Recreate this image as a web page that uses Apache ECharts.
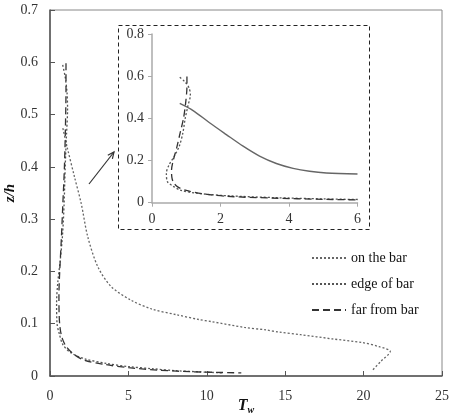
<!DOCTYPE html>
<html>
<head>
<meta charset="utf-8">
<script src="https://cdn.jsdelivr.net/npm/echarts@6/dist/echarts.min.js"></script>
<style>
  html, body { margin: 0; padding: 0; background: #fff; }
  #chart { width: 449px; height: 415px; }
</style>
</head>
<body>
<div id="chart"></div>
<script>
// names shown in the legend
const seriesNames = ['on the bar', 'edge of bar', 'far from bar'];

// main plot, [Tw, z/h]
const onTheBar = [
  [0.82, 0.474], [1.09, 0.438], [1.56, 0.381], [1.99, 0.33], [2.41, 0.266],
  [3.05, 0.209], [3.9, 0.171], [5.17, 0.145], [6.5, 0.128], [8.1, 0.117],
  [9.5, 0.108], [10.3, 0.104], [12.4, 0.093], [13.8, 0.088], [14.6, 0.084],
  [16, 0.079], [18, 0.071], [19.9, 0.064], [21, 0.056], [21.7, 0.047],
  [21.1, 0.028], [20.5, 0.009]
];
const edgeOfBar = [
  [0.81, 0.595], [0.95, 0.575], [1.08, 0.545], [1.12, 0.51], [1.05, 0.46],
  [0.97, 0.4], [0.9, 0.33], [0.8, 0.27], [0.65, 0.22], [0.5, 0.18],
  [0.42, 0.14], [0.45, 0.1], [0.6, 0.08], [0.82, 0.06], [1.3, 0.045],
  [2.2, 0.033], [3.6, 0.024], [5.0, 0.018], [6.5, 0.014], [8.1, 0.01],
  [9.5, 0.008], [11.0, 0.006]
];
const farFromBar = [
  [1.02, 0.598], [1.02, 0.55], [0.98, 0.47], [0.92, 0.4], [0.82, 0.33],
  [0.72, 0.26], [0.62, 0.2], [0.57, 0.155], [0.58, 0.12], [0.63, 0.095],
  [0.75, 0.075], [1.0, 0.058], [1.5, 0.042], [2.2, 0.03], [3.5, 0.022],
  [5.0, 0.016], [7.0, 0.011], [9.2, 0.008], [12.2, 0.006]
];

// zoomed inset
const onTheBarInset = [
  [0.81, 0.471], [1.2, 0.437], [1.68, 0.379], [2.17, 0.323], [2.66, 0.268],
  [3.14, 0.221], [3.63, 0.186], [4.12, 0.163], [4.6, 0.149], [5.09, 0.141],
  [6.0, 0.136]
];

const serif = 'Liberation Serif';

const chart = echarts.init(document.getElementById('chart'));

const option = {
  backgroundColor: '#fff',
  animation: false,
  legend: {
    data: seriesNames,
    orient: 'vertical',
    left: 306,
    top: 246,
    itemWidth: 34,
    itemHeight: 14,
    itemGap: 12,
    itemStyle: { opacity: 0 },
    textStyle: { fontFamily: serif, fontSize: 14, color: '#111' }
  },
  grid: [
    // main
    { left: 50, top: 10, width: 392, height: 366, outerBoundsMode: 'none', show: true, borderColor: '#888', borderWidth: 1 },
    // inset
    { left: 152, top: 34, width: 205.5, height: 168.7, outerBoundsMode: 'none' }
  ],
  xAxis: [
    {
      gridIndex: 0, type: 'value', min: 0, max: 25, interval: 5,
      name: '{t|T}{s|w}', nameLocation: 'middle', nameGap: 21, nameMoveOverlap: false,
      nameTextStyle: {
        rich: {
          t: { fontFamily: serif, fontSize: 16, fontWeight: 'bold', fontStyle: 'italic', color: '#111' },
          s: { fontFamily: serif, fontSize: 10, fontWeight: 'bold', fontStyle: 'italic', color: '#111', padding: [8, 0, 0, 0] }
        }
      },
      axisLine: { lineStyle: { color: '#555', width: 1.5 } },
      axisTick: { inside: true, length: 5, lineStyle: { color: '#555' } },
      axisLabel: { margin: 13, fontFamily: serif, fontSize: 14, color: '#333' },
      splitLine: { show: false }
    },
    {
      gridIndex: 1, type: 'value', min: 0, max: 6, interval: 2,
      axisLine: { lineStyle: { color: '#aaa', width: 1.5 } },
      axisTick: { length: 4, lineStyle: { color: '#aaa' } },
      axisLabel: { margin: 10, fontFamily: serif, fontSize: 14, color: '#333' },
      splitLine: { show: false }
    }
  ],
  yAxis: [
    {
      gridIndex: 0, type: 'value', min: 0, max: 0.7, interval: 0.1,
      name: 'z/h', nameLocation: 'middle', nameGap: 32, nameMoveOverlap: false,
      nameTextStyle: { fontFamily: serif, fontSize: 15, fontWeight: 'bold', fontStyle: 'italic', color: '#111' },
      axisLine: { lineStyle: { color: '#555', width: 1.5 } },
      axisTick: { inside: true, length: 5, lineStyle: { color: '#555' } },
      axisLabel: { margin: 12, fontFamily: serif, fontSize: 14, color: '#333' },
      splitLine: { show: false }
    },
    {
      gridIndex: 1, type: 'value', min: 0, max: 0.8, interval: 0.2,
      axisLine: { lineStyle: { color: '#aaa', width: 1.5 } },
      axisTick: { length: 4, lineStyle: { color: '#aaa' } },
      axisLabel: { margin: 8, fontFamily: serif, fontSize: 14, color: '#333' },
      splitLine: { show: false }
    }
  ],
  // inset frame and the pointer arrow
  graphic: [
    {
      type: 'rect', z: 0,
      shape: { x: 118.5, y: 25.5, width: 251, height: 204 },
      style: { fill: '#fff', stroke: '#222', lineWidth: 1, lineDash: [4, 3] }
    },
    {
      type: 'line', z: 5,
      shape: { x1: 89, y1: 184, x2: 114, y2: 152 },
      style: { stroke: '#333', lineWidth: 1.2 }
    },
    {
      type: 'polyline', z: 5,
      shape: { points: [[107.8, 155.2], [114, 152], [112.4, 158.8]] },
      style: { stroke: '#333', lineWidth: 1.2, fill: null }
    }
  ],
  series: [
    {
      name: seriesNames[0], type: 'line', xAxisIndex: 0, yAxisIndex: 0,
      data: onTheBar, symbol: 'none', smooth: 0.3,
      lineStyle: { color: '#666', width: 1.3, type: [2, 2] }, itemStyle: { color: '#666' }
    },
    {
      name: seriesNames[1], type: 'line', xAxisIndex: 0, yAxisIndex: 0,
      data: edgeOfBar, symbol: 'none', smooth: 0.3,
      lineStyle: { color: '#555', width: 1.3, type: [2, 2] }, itemStyle: { color: '#555' }
    },
    {
      name: seriesNames[2], type: 'line', xAxisIndex: 0, yAxisIndex: 0,
      data: farFromBar, symbol: 'none', smooth: 0.3,
      lineStyle: { color: '#333', width: 1.3, type: [7, 4] }, itemStyle: { color: '#333' }
    },
    {
      name: 'inset ' + seriesNames[0], type: 'line', xAxisIndex: 1, yAxisIndex: 1,
      data: onTheBarInset, symbol: 'none', smooth: 0.3,
      lineStyle: { color: '#666', width: 1.4 }
    },
    {
      name: 'inset ' + seriesNames[1], type: 'line', xAxisIndex: 1, yAxisIndex: 1,
      data: edgeOfBar, symbol: 'none', smooth: 0.3,
      lineStyle: { color: '#555', width: 1.3, type: [2, 2] }
    },
    {
      name: 'inset ' + seriesNames[2], type: 'line', xAxisIndex: 1, yAxisIndex: 1,
      data: farFromBar, symbol: 'none', smooth: 0.3,
      lineStyle: { color: '#333', width: 1.3, type: [7, 4] }
    }
  ]
};

chart.setOption(option);
</script>
</body>
</html>
